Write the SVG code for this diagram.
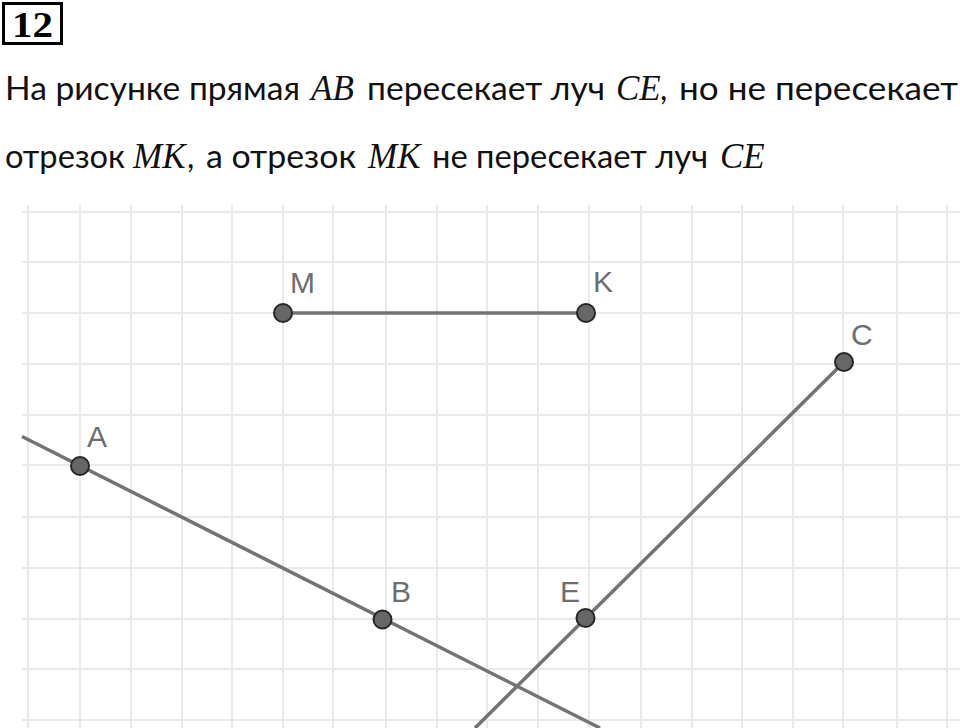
<svg xmlns="http://www.w3.org/2000/svg" width="960" height="728" viewBox="0 0 960 728">
<style>
.grid line{stroke:#e9e9e9;stroke-width:2}
.ln{stroke:#737373;stroke-width:3.5;stroke-linecap:butt;fill:none}
.pt{fill:#676767;stroke:#262626;stroke-width:2}
.lbl{font-family:"Liberation Sans",Arial,sans-serif;font-size:30px;fill:#6e6e6e}
.txt{font-family:Lato,"Open Sans",sans-serif;font-size:32px;fill:#111}
.m{font-family:"Liberation Serif",serif;font-style:italic;font-size:35px;fill:#111}
</style>
<rect width="960" height="728" fill="#fff"/>
<g id="header">
<rect x="3.5" y="3.5" width="58" height="40" fill="none" stroke="#000" stroke-width="3"/>
<text x="12" y="37" font-family="Liberation Serif,serif" font-weight="bold" font-size="35" fill="#000" textLength="41" lengthAdjust="spacingAndGlyphs">12</text>
</g>
<g id="statement">
<text class="txt" y="100"><tspan x="5" textLength="295" lengthAdjust="spacingAndGlyphs">На рисунке прямая</tspan><tspan class="m" x="311">AB</tspan><tspan x="367" textLength="238" lengthAdjust="spacingAndGlyphs">пересекает луч</tspan><tspan class="m" x="616">CE</tspan><tspan x="660">,</tspan><tspan x="679" textLength="279" lengthAdjust="spacingAndGlyphs">но не пересекает</tspan></text>
<text class="txt" y="168"><tspan x="5" textLength="120" lengthAdjust="spacingAndGlyphs">отрезок</tspan><tspan class="m" x="133">MK</tspan><tspan x="187">,</tspan><tspan x="206" textLength="150" lengthAdjust="spacingAndGlyphs">а отрезок</tspan><tspan class="m" x="368">MK</tspan><tspan x="432" textLength="276" lengthAdjust="spacingAndGlyphs">не пересекает луч</tspan><tspan class="m" x="720">CE</tspan></text>
</g>
<g class="grid" id="grid">
<line x1="28" y1="205" x2="28" y2="728"/>
<line x1="80" y1="205" x2="80" y2="728"/>
<line x1="131" y1="205" x2="131" y2="728"/>
<line x1="182" y1="205" x2="182" y2="728"/>
<line x1="232" y1="205" x2="232" y2="728"/>
<line x1="283" y1="205" x2="283" y2="728"/>
<line x1="333" y1="205" x2="333" y2="728"/>
<line x1="386" y1="205" x2="386" y2="728"/>
<line x1="437" y1="205" x2="437" y2="728"/>
<line x1="487" y1="205" x2="487" y2="728"/>
<line x1="538" y1="205" x2="538" y2="728"/>
<line x1="589" y1="205" x2="589" y2="728"/>
<line x1="641" y1="205" x2="641" y2="728"/>
<line x1="692" y1="205" x2="692" y2="728"/>
<line x1="742" y1="205" x2="742" y2="728"/>
<line x1="793" y1="205" x2="793" y2="728"/>
<line x1="843" y1="205" x2="843" y2="728"/>
<line x1="897" y1="205" x2="897" y2="728"/>
<line x1="947" y1="205" x2="947" y2="728"/>
<line x1="22" y1="212" x2="960" y2="212"/>
<line x1="22" y1="262" x2="960" y2="262"/>
<line x1="22" y1="313" x2="960" y2="313"/>
<line x1="22" y1="364" x2="960" y2="364"/>
<line x1="22" y1="415" x2="960" y2="415"/>
<line x1="22" y1="465" x2="960" y2="465"/>
<line x1="22" y1="517" x2="960" y2="517"/>
<line x1="22" y1="568" x2="960" y2="568"/>
<line x1="22" y1="619" x2="960" y2="619"/>
<line x1="22" y1="669" x2="960" y2="669"/>
<line x1="22" y1="720" x2="960" y2="720"/>
</g>
<g id="connectors">
<line class="ln" id="lineAB" x1="22" y1="436.5" x2="600" y2="728"/>
<line class="ln" id="rayCE" x1="844" y1="362" x2="475" y2="728"/>
<line class="ln" id="segMK" x1="283" y1="313" x2="586" y2="313"/>
</g>
<g id="node-M"><circle class="pt" cx="283" cy="313" r="9"/><text class="lbl" x="290" y="293">M</text></g>
<g id="node-K"><circle class="pt" cx="586" cy="313" r="9"/><text class="lbl" x="593" y="292">K</text></g>
<g id="node-C"><circle class="pt" cx="844" cy="362" r="9"/><text class="lbl" x="851" y="345">C</text></g>
<g id="node-A"><circle class="pt" cx="80" cy="466" r="9"/><text class="lbl" x="87" y="447">A</text></g>
<g id="node-B"><circle class="pt" cx="382.5" cy="619.5" r="9"/><text class="lbl" x="391" y="602">B</text></g>
<g id="node-E"><circle class="pt" cx="585.5" cy="618" r="9"/><text class="lbl" x="560" y="602">E</text></g>
</svg>
